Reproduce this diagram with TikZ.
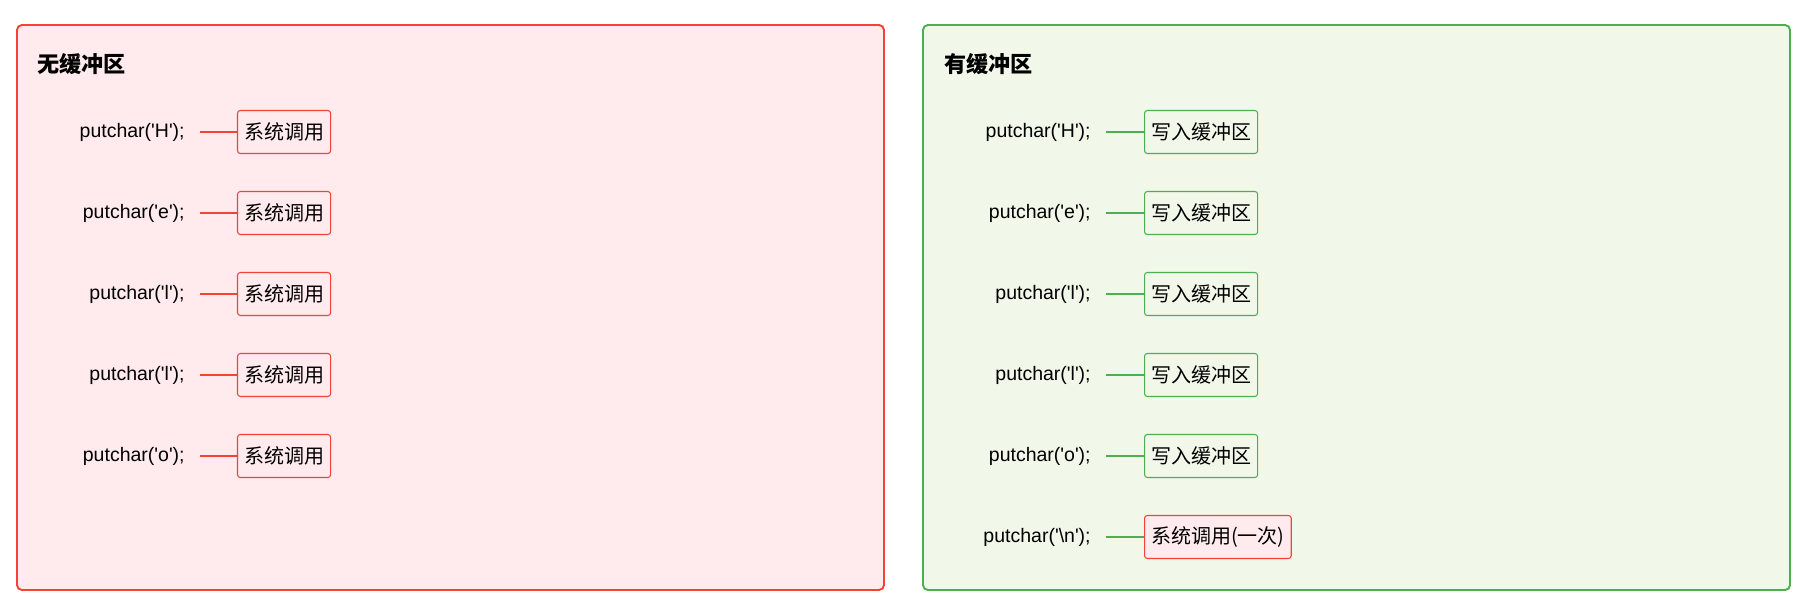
\documentclass[tikz,border=0pt]{standalone}
\usepackage{fontspec}
\setmainfont{Liberation Sans}
\newfontfamily\cjk{Noto Sans CJK SC}
\usetikzlibrary{positioning}

\definecolor{redline}{HTML}{F44336}
\definecolor{redfill}{HTML}{FFEBEE}
\definecolor{greenline}{HTML}{4CAF50}
\definecolor{greenfill}{HTML}{F1F8E9}

\tikzset{
  panel/.style={draw=#1line, fill=#1fill, line width=1.1pt, rounded corners=2.8pt},
  title/.style={anchor=west, inner sep=0pt, font=\cjk\bfseries\fontsize{12.6}{14}\selectfont},
  call/.style={anchor=east, inner xsep=0.3cm, inner ysep=0pt, font=\fontsize{11.1}{13}\selectfont},
  opbox/.style={draw=#1line, fill=#1fill, line width=0.6pt, rounded corners=1.6pt,
    minimum height=0.86cm, inner xsep=0.13cm, font=\cjk\fontsize{11.4}{13}\selectfont},
  link/.style={draw=#1line, line width=0.85pt}
}

\begin{document}
\begin{tikzpicture}[x=0.02cm, y=-0.02cm]
    \useasboundingbox (0,0) rectangle (1810,602);

    % two panels
    \draw[panel=red] (17,25) rectangle (884,590);
    \draw[panel=green] (923,25) rectangle (1790,590);
    \node[title] (tnobuf) at (37,64) {无缓冲区};
    \node[title] (tbuf) at (944,64) {有缓冲区};

    % without buffer: every char is a system call
    \foreach \c [count=\i] in {H,e,l,l,o} {
        \node[call] (a\i) at (200,{132+81*(\i-1)}) {putchar(\textquotesingle\c\textquotesingle);};
        \node[opbox=red, right=0.74cm of a\i] (sa\i) {系统调用};
        \draw[link=red] (a\i.east) -- (sa\i.west);
    }

    % with buffer: chars go to the buffer
    \foreach \c [count=\i] in {H,e,l,l,o} {
        \node[call] (b\i) at (1106,{132+81*(\i-1)}) {putchar(\textquotesingle\c\textquotesingle);};
        \node[opbox=green, right=0.76cm of b\i] (wb\i) {写入缓冲区};
        \draw[link=green] (b\i.east) -- (wb\i.west);
    }
    \node[call] (b6) at (1106,537) {putchar(\textquotesingle\textbackslash n\textquotesingle);};
    \node[opbox=red, right=0.76cm of b6] (sb6) {系统调用(一次)};
    \draw[link=green] (b6.east) -- (sb6.west);
\end{tikzpicture}
\end{document}
